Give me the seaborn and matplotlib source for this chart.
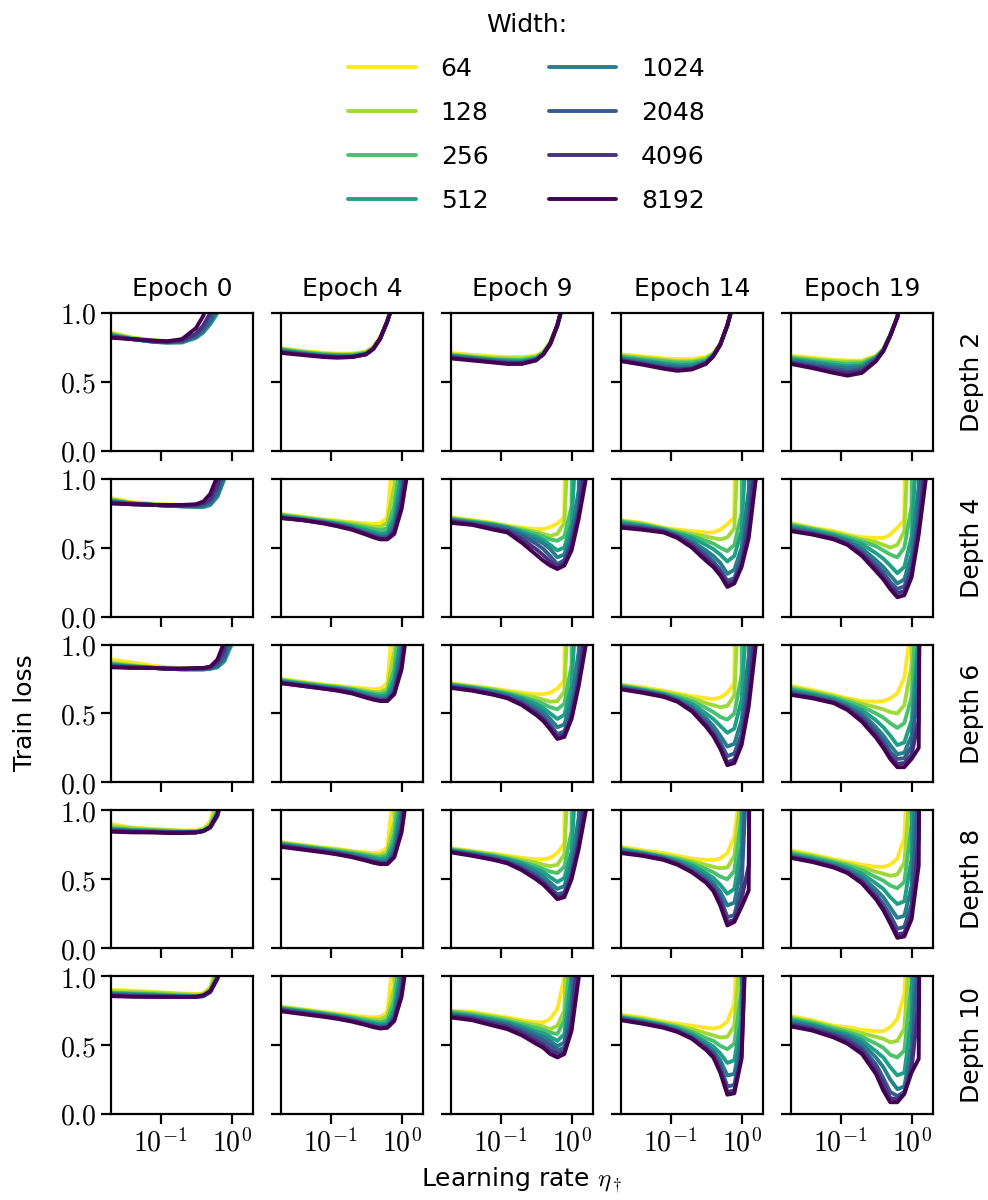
import numpy as np
import pandas as pd
import matplotlib
matplotlib.use("Agg")
import matplotlib.pyplot as plt
import matplotlib.ticker as mtick
from matplotlib.lines import Line2D
import seaborn as sns

# ================================
# DATA (values > 1 are off the top of the axes)
# ================================
widths = [64, 128, 256, 512, 1024, 2048, 4096, 8192]
epochs = [0, 4, 9, 14, 19]
depths = [2, 4, 6, 8, 10]
lr = [0.02, 0.04, 0.08, 0.125, 0.2, 0.315, 0.4, 0.5, 0.63, 0.79, 1.0, 1.26, 1.59, 2.0]

# depth 2: [epoch][width][lr]
depth2_loss = [
    [
        [0.86, 0.82, 0.80, 0.795, 0.80, 0.84, 0.88, 0.94, 1.03, 9],
        [0.85, 0.82, 0.80, 0.79, 0.79, 0.83, 0.87, 0.93, 1.01, 9],
        [0.845, 0.815, 0.795, 0.79, 0.79, 0.82, 0.86, 0.92, 1.0, 9],
        [0.84, 0.81, 0.79, 0.785, 0.785, 0.82, 0.86, 0.92, 1.0, 9],
        [0.835, 0.81, 0.79, 0.785, 0.79, 0.825, 0.87, 0.93, 1.02, 9],
        [0.83, 0.81, 0.795, 0.79, 0.795, 0.835, 0.88, 0.95, 1.05, 9],
        [0.825, 0.81, 0.795, 0.79, 0.80, 0.85, 0.91, 1.0, 9],
        [0.82, 0.81, 0.80, 0.795, 0.81, 0.89, 0.98, 1.15, 9],
    ],
    [
        [0.745, 0.725, 0.71, 0.705, 0.705, 0.72, 0.755, 0.825, 0.945, 1.1, 9],
        [0.74, 0.72, 0.705, 0.70, 0.70, 0.715, 0.75, 0.82, 0.94, 1.1, 9],
        [0.735, 0.715, 0.70, 0.695, 0.695, 0.71, 0.745, 0.815, 0.94, 1.1, 9],
        [0.73, 0.71, 0.695, 0.69, 0.69, 0.705, 0.74, 0.815, 0.94, 1.1, 9],
        [0.725, 0.705, 0.69, 0.685, 0.685, 0.70, 0.74, 0.815, 0.94, 1.1, 9],
        [0.72, 0.70, 0.685, 0.68, 0.68, 0.70, 0.74, 0.815, 0.94, 1.1, 9],
        [0.715, 0.70, 0.685, 0.68, 0.68, 0.70, 0.74, 0.815, 0.94, 1.1, 9],
        [0.71, 0.695, 0.68, 0.675, 0.68, 0.70, 0.74, 0.815, 0.94, 1.1, 9],
    ],
    [
        [0.71, 0.695, 0.685, 0.68, 0.68, 0.69, 0.72, 0.79, 0.92, 1.1, 9],
        [0.70, 0.685, 0.675, 0.67, 0.67, 0.685, 0.715, 0.785, 0.915, 1.1, 9],
        [0.695, 0.68, 0.665, 0.66, 0.66, 0.675, 0.71, 0.78, 0.91, 1.1, 9],
        [0.69, 0.675, 0.66, 0.655, 0.65, 0.67, 0.705, 0.78, 0.91, 1.1, 9],
        [0.685, 0.67, 0.655, 0.645, 0.645, 0.665, 0.70, 0.775, 0.91, 1.1, 9],
        [0.68, 0.665, 0.65, 0.64, 0.64, 0.66, 0.70, 0.775, 0.91, 1.1, 9],
        [0.675, 0.66, 0.645, 0.635, 0.635, 0.66, 0.70, 0.775, 0.91, 1.1, 9],
        [0.67, 0.655, 0.64, 0.63, 0.63, 0.655, 0.70, 0.775, 0.91, 1.1, 9],
    ],
    [
        [0.70, 0.685, 0.67, 0.665, 0.665, 0.68, 0.71, 0.78, 0.91, 1.1, 9],
        [0.69, 0.675, 0.66, 0.65, 0.65, 0.67, 0.705, 0.775, 0.91, 1.1, 9],
        [0.685, 0.665, 0.65, 0.64, 0.64, 0.66, 0.70, 0.77, 0.91, 1.1, 9],
        [0.675, 0.655, 0.635, 0.625, 0.625, 0.65, 0.695, 0.77, 0.91, 1.1, 9],
        [0.67, 0.645, 0.625, 0.61, 0.61, 0.645, 0.69, 0.77, 0.91, 1.1, 9],
        [0.66, 0.635, 0.61, 0.60, 0.60, 0.64, 0.69, 0.77, 0.91, 1.1, 9],
        [0.655, 0.63, 0.60, 0.59, 0.595, 0.635, 0.685, 0.77, 0.91, 1.1, 9],
        [0.65, 0.625, 0.595, 0.58, 0.59, 0.63, 0.685, 0.77, 0.91, 1.1, 9],
    ],
    [
        [0.69, 0.675, 0.66, 0.655, 0.655, 0.69, 0.74, 0.84, 0.97, 1.2, 9],
        [0.68, 0.665, 0.65, 0.645, 0.645, 0.685, 0.735, 0.84, 0.97, 1.2, 9],
        [0.675, 0.655, 0.64, 0.63, 0.635, 0.68, 0.735, 0.84, 0.97, 1.2, 9],
        [0.665, 0.645, 0.625, 0.615, 0.62, 0.675, 0.73, 0.835, 0.97, 1.2, 9],
        [0.655, 0.635, 0.61, 0.60, 0.61, 0.67, 0.73, 0.835, 0.97, 1.2, 9],
        [0.645, 0.62, 0.595, 0.58, 0.595, 0.665, 0.725, 0.835, 0.97, 1.2, 9],
        [0.635, 0.61, 0.58, 0.565, 0.58, 0.655, 0.725, 0.835, 0.97, 1.2, 9],
        [0.63, 0.60, 0.565, 0.545, 0.565, 0.65, 0.725, 0.835, 0.97, 1.2, 9],
    ],
]

depth4_loss = [
    [
        [0.86, 0.83, 0.82, 0.815, 0.81, 0.81, 0.815, 0.84, 0.92, 1.05, 9],
        [0.85, 0.825, 0.815, 0.81, 0.805, 0.80, 0.805, 0.82, 0.89, 1.02, 9],
        [0.845, 0.82, 0.81, 0.805, 0.80, 0.795, 0.795, 0.81, 0.87, 1.0, 9],
        [0.84, 0.82, 0.81, 0.805, 0.80, 0.795, 0.795, 0.81, 0.87, 1.0, 9],
        [0.835, 0.82, 0.81, 0.805, 0.80, 0.80, 0.80, 0.815, 0.88, 1.01, 9],
        [0.83, 0.815, 0.81, 0.805, 0.805, 0.805, 0.81, 0.83, 0.90, 1.05, 9],
        [0.825, 0.815, 0.81, 0.805, 0.805, 0.81, 0.82, 0.85, 0.95, 1.15, 9],
        [0.82, 0.815, 0.81, 0.81, 0.81, 0.815, 0.835, 0.89, 1.02, 9],
    ],
    [
        [0.745, 0.725, 0.705, 0.695, 0.685, 0.675, 0.67, 0.675, 0.72, 1.3, 9],
        [0.74, 0.72, 0.70, 0.69, 0.675, 0.66, 0.65, 0.65, 0.68, 0.95, 9],
        [0.735, 0.715, 0.695, 0.68, 0.665, 0.645, 0.635, 0.625, 0.64, 0.80, 1.2, 9],
        [0.73, 0.71, 0.69, 0.675, 0.655, 0.63, 0.615, 0.60, 0.61, 0.72, 1.05, 9],
        [0.725, 0.705, 0.685, 0.67, 0.645, 0.615, 0.60, 0.585, 0.59, 0.67, 0.95, 9],
        [0.72, 0.70, 0.68, 0.665, 0.64, 0.605, 0.59, 0.575, 0.575, 0.64, 0.88, 1.3, 9],
        [0.715, 0.70, 0.68, 0.66, 0.635, 0.60, 0.58, 0.565, 0.565, 0.62, 0.83, 1.2, 9],
        [0.715, 0.70, 0.675, 0.655, 0.63, 0.595, 0.575, 0.56, 0.56, 0.60, 0.78, 1.1, 9],
    ],
    [
        [0.72, 0.70, 0.68, 0.66, 0.645, 0.635, 0.635, 0.65, 0.675, 0.72, 9],
        [0.715, 0.695, 0.675, 0.655, 0.635, 0.615, 0.60, 0.585, 0.60, 0.68, 1.8, 9],
        [0.71, 0.69, 0.67, 0.65, 0.625, 0.60, 0.58, 0.56, 0.55, 0.58, 0.80, 9],
        [0.705, 0.685, 0.665, 0.645, 0.615, 0.58, 0.555, 0.52, 0.48, 0.50, 0.68, 1.6, 9],
        [0.70, 0.68, 0.66, 0.64, 0.60, 0.56, 0.53, 0.49, 0.43, 0.45, 0.60, 0.92, 9],
        [0.695, 0.675, 0.65, 0.63, 0.585, 0.53, 0.49, 0.44, 0.38, 0.41, 0.55, 0.80, 1.6, 9],
        [0.69, 0.67, 0.64, 0.62, 0.56, 0.49, 0.445, 0.40, 0.36, 0.39, 0.52, 0.75, 1.15, 9],
        [0.68, 0.665, 0.63, 0.61, 0.535, 0.45, 0.405, 0.37, 0.345, 0.37, 0.48, 0.71, 1.0, 9],
    ],
    [
        [0.70, 0.68, 0.645, 0.63, 0.62, 0.61, 0.61, 0.63, 0.67, 0.72, 9],
        [0.695, 0.675, 0.64, 0.62, 0.60, 0.58, 0.57, 0.56, 0.575, 0.64, 1.8, 9],
        [0.69, 0.665, 0.635, 0.61, 0.585, 0.55, 0.53, 0.50, 0.475, 0.52, 0.75, 9],
        [0.68, 0.66, 0.63, 0.60, 0.57, 0.52, 0.49, 0.45, 0.40, 0.44, 0.62, 1.6, 9],
        [0.67, 0.65, 0.625, 0.59, 0.545, 0.48, 0.44, 0.39, 0.31, 0.34, 0.50, 0.92, 9],
        [0.66, 0.645, 0.62, 0.585, 0.53, 0.45, 0.40, 0.34, 0.26, 0.28, 0.42, 0.76, 1.6, 9],
        [0.655, 0.64, 0.615, 0.58, 0.515, 0.425, 0.375, 0.32, 0.24, 0.255, 0.38, 0.65, 1.15, 9],
        [0.645, 0.63, 0.61, 0.57, 0.50, 0.405, 0.36, 0.30, 0.215, 0.24, 0.36, 0.57, 1.0, 9],
    ],
    [
        [0.68, 0.645, 0.62, 0.595, 0.575, 0.57, 0.57, 0.595, 0.645, 0.70, 9],
        [0.67, 0.64, 0.61, 0.585, 0.56, 0.54, 0.52, 0.50, 0.52, 0.62, 1.8, 9],
        [0.665, 0.635, 0.60, 0.575, 0.545, 0.51, 0.48, 0.45, 0.43, 0.50, 0.80, 9],
        [0.655, 0.625, 0.59, 0.56, 0.525, 0.46, 0.42, 0.37, 0.315, 0.36, 0.58, 1.5, 9],
        [0.645, 0.615, 0.58, 0.55, 0.495, 0.41, 0.36, 0.30, 0.24, 0.27, 0.45, 0.95, 9],
        [0.635, 0.605, 0.57, 0.535, 0.47, 0.375, 0.32, 0.25, 0.20, 0.22, 0.37, 0.75, 1.6, 9],
        [0.625, 0.60, 0.565, 0.525, 0.455, 0.35, 0.29, 0.22, 0.17, 0.185, 0.32, 0.65, 1.15, 9],
        [0.62, 0.595, 0.56, 0.52, 0.44, 0.33, 0.27, 0.20, 0.14, 0.155, 0.285, 0.595, 1.0, 9],
    ],
]

depth6_loss = [
    [
        [0.89, 0.87, 0.845, 0.835, 0.83, 0.83, 0.83, 0.835, 0.85, 0.92, 1.1, 9],
        [0.87, 0.85, 0.835, 0.83, 0.825, 0.825, 0.825, 0.83, 0.84, 0.90, 1.05, 9],
        [0.86, 0.845, 0.83, 0.825, 0.82, 0.82, 0.82, 0.825, 0.835, 0.88, 1.02, 9],
        [0.855, 0.84, 0.83, 0.825, 0.82, 0.82, 0.82, 0.825, 0.835, 0.88, 1.0, 9],
        [0.85, 0.84, 0.83, 0.825, 0.82, 0.82, 0.82, 0.825, 0.84, 0.89, 1.02, 9],
        [0.845, 0.835, 0.83, 0.825, 0.825, 0.825, 0.825, 0.83, 0.85, 0.91, 1.1, 9],
        [0.84, 0.835, 0.83, 0.825, 0.825, 0.825, 0.83, 0.835, 0.87, 0.96, 9],
        [0.835, 0.83, 0.83, 0.825, 0.825, 0.83, 0.83, 0.84, 0.89, 1.02, 9],
    ],
    [
        [0.75, 0.73, 0.71, 0.70, 0.69, 0.68, 0.675, 0.68, 0.72, 1.3, 9],
        [0.745, 0.725, 0.705, 0.695, 0.68, 0.665, 0.655, 0.655, 0.68, 0.95, 9],
        [0.74, 0.72, 0.70, 0.69, 0.675, 0.655, 0.645, 0.64, 0.655, 0.82, 1.3, 9],
        [0.735, 0.715, 0.695, 0.685, 0.67, 0.645, 0.635, 0.625, 0.635, 0.75, 1.1, 9],
        [0.73, 0.71, 0.69, 0.68, 0.66, 0.635, 0.62, 0.61, 0.615, 0.70, 1.0, 9],
        [0.725, 0.705, 0.685, 0.675, 0.655, 0.625, 0.61, 0.60, 0.60, 0.67, 0.92, 9],
        [0.72, 0.70, 0.68, 0.67, 0.65, 0.62, 0.605, 0.595, 0.595, 0.65, 0.86, 1.3, 9],
        [0.72, 0.70, 0.68, 0.665, 0.645, 0.615, 0.60, 0.59, 0.59, 0.64, 0.82, 1.2, 9],
    ],
    [
        [0.72, 0.70, 0.68, 0.665, 0.65, 0.64, 0.64, 0.65, 0.68, 0.74, 9],
        [0.715, 0.695, 0.675, 0.655, 0.635, 0.615, 0.60, 0.585, 0.59, 0.66, 1.8, 9],
        [0.71, 0.69, 0.665, 0.645, 0.62, 0.59, 0.57, 0.545, 0.53, 0.57, 0.85, 9],
        [0.705, 0.685, 0.66, 0.64, 0.61, 0.57, 0.54, 0.50, 0.46, 0.49, 0.70, 1.6, 9],
        [0.70, 0.68, 0.655, 0.63, 0.595, 0.545, 0.51, 0.46, 0.40, 0.42, 0.60, 0.95, 9],
        [0.695, 0.675, 0.645, 0.62, 0.58, 0.52, 0.48, 0.42, 0.35, 0.37, 0.52, 0.80, 1.6, 9],
        [0.69, 0.67, 0.64, 0.615, 0.57, 0.505, 0.46, 0.40, 0.33, 0.345, 0.48, 0.74, 1.15, 9],
        [0.685, 0.665, 0.635, 0.61, 0.56, 0.49, 0.445, 0.385, 0.315, 0.33, 0.46, 0.70, 1.0, 9],
    ],
    [
        [0.71, 0.69, 0.665, 0.645, 0.625, 0.61, 0.605, 0.615, 0.65, 0.72, 9],
        [0.705, 0.68, 0.655, 0.635, 0.61, 0.575, 0.56, 0.545, 0.555, 0.63, 1.8, 9],
        [0.70, 0.675, 0.645, 0.62, 0.59, 0.54, 0.51, 0.475, 0.455, 0.50, 0.78, 9],
        [0.695, 0.67, 0.64, 0.61, 0.57, 0.50, 0.46, 0.41, 0.36, 0.39, 0.60, 1.5, 9],
        [0.69, 0.665, 0.635, 0.60, 0.55, 0.465, 0.41, 0.34, 0.26, 0.28, 0.45, 0.92, 9],
        [0.685, 0.66, 0.63, 0.595, 0.535, 0.44, 0.375, 0.29, 0.19, 0.21, 0.35, 0.75, 1.6, 9],
        [0.68, 0.655, 0.625, 0.59, 0.525, 0.42, 0.35, 0.26, 0.145, 0.165, 0.30, 0.62, 1.15, 9],
        [0.675, 0.65, 0.62, 0.585, 0.515, 0.405, 0.335, 0.245, 0.125, 0.14, 0.27, 0.55, 1.0, 9],
    ],
    [
        [0.70, 0.67, 0.635, 0.61, 0.59, 0.585, 0.59, 0.61, 0.645, 0.76, 1.15, 9],
        [0.69, 0.66, 0.625, 0.60, 0.57, 0.545, 0.53, 0.51, 0.50, 0.56, 0.85, 9],
        [0.68, 0.65, 0.615, 0.585, 0.55, 0.50, 0.47, 0.43, 0.395, 0.43, 0.62, 1.6, 9],
        [0.67, 0.64, 0.605, 0.57, 0.525, 0.45, 0.40, 0.34, 0.27, 0.29, 0.45, 1.1, 9],
        [0.66, 0.63, 0.595, 0.555, 0.50, 0.40, 0.34, 0.27, 0.205, 0.215, 0.34, 0.95, 9],
        [0.65, 0.62, 0.585, 0.545, 0.48, 0.37, 0.30, 0.22, 0.17, 0.175, 0.26, 0.70, 9],
        [0.64, 0.615, 0.58, 0.535, 0.46, 0.345, 0.27, 0.19, 0.135, 0.14, 0.20, 0.45, 9],
        [0.635, 0.61, 0.575, 0.525, 0.44, 0.325, 0.25, 0.17, 0.11, 0.11, 0.17, 0.25, 9],
    ],
]

depth8_loss = [
    [
        [0.90, 0.875, 0.865, 0.86, 0.855, 0.855, 0.87, 0.92, 1.1, 9],
        [0.885, 0.87, 0.86, 0.855, 0.85, 0.85, 0.86, 0.90, 1.05, 9],
        [0.87, 0.86, 0.855, 0.85, 0.845, 0.845, 0.855, 0.885, 1.0, 9],
        [0.865, 0.855, 0.85, 0.845, 0.84, 0.84, 0.85, 0.88, 0.98, 9],
        [0.86, 0.85, 0.845, 0.84, 0.84, 0.84, 0.85, 0.875, 0.97, 1.2, 9],
        [0.855, 0.85, 0.845, 0.84, 0.84, 0.84, 0.85, 0.875, 0.96, 1.15, 9],
        [0.85, 0.845, 0.84, 0.84, 0.84, 0.84, 0.85, 0.875, 0.96, 1.15, 9],
        [0.845, 0.84, 0.84, 0.835, 0.835, 0.84, 0.85, 0.88, 0.97, 1.2, 9],
    ],
    [
        [0.77, 0.75, 0.73, 0.72, 0.705, 0.695, 0.69, 0.695, 0.73, 1.2, 9],
        [0.765, 0.745, 0.725, 0.715, 0.70, 0.685, 0.675, 0.675, 0.70, 0.92, 9],
        [0.76, 0.74, 0.72, 0.705, 0.69, 0.675, 0.665, 0.66, 0.675, 0.82, 1.3, 9],
        [0.755, 0.735, 0.715, 0.70, 0.685, 0.665, 0.655, 0.645, 0.655, 0.76, 1.1, 9],
        [0.75, 0.73, 0.71, 0.695, 0.675, 0.655, 0.64, 0.63, 0.635, 0.72, 1.0, 9],
        [0.745, 0.725, 0.705, 0.69, 0.67, 0.645, 0.63, 0.62, 0.62, 0.69, 0.92, 9],
        [0.74, 0.72, 0.70, 0.685, 0.665, 0.64, 0.625, 0.615, 0.615, 0.67, 0.87, 1.3, 9],
        [0.735, 0.715, 0.695, 0.68, 0.66, 0.635, 0.62, 0.61, 0.61, 0.66, 0.84, 1.2, 9],
    ],
    [
        [0.725, 0.705, 0.685, 0.67, 0.655, 0.645, 0.645, 0.655, 0.69, 0.76, 9],
        [0.72, 0.70, 0.68, 0.66, 0.64, 0.62, 0.605, 0.595, 0.605, 0.68, 1.8, 9],
        [0.715, 0.695, 0.67, 0.65, 0.625, 0.595, 0.575, 0.555, 0.545, 0.59, 0.85, 9],
        [0.71, 0.69, 0.665, 0.645, 0.615, 0.575, 0.55, 0.515, 0.48, 0.51, 0.70, 1.6, 9],
        [0.705, 0.685, 0.66, 0.635, 0.60, 0.555, 0.52, 0.475, 0.43, 0.45, 0.62, 0.95, 9],
        [0.70, 0.68, 0.65, 0.625, 0.585, 0.53, 0.49, 0.44, 0.39, 0.405, 0.55, 0.82, 1.6, 9],
        [0.70, 0.675, 0.645, 0.62, 0.575, 0.515, 0.475, 0.425, 0.37, 0.385, 0.52, 0.76, 1.15, 9],
        [0.695, 0.67, 0.64, 0.615, 0.565, 0.50, 0.46, 0.41, 0.355, 0.37, 0.50, 0.72, 1.0, 9],
    ],
    [
        [0.735, 0.71, 0.69, 0.67, 0.65, 0.64, 0.64, 0.65, 0.69, 0.81, 1.25, 9],
        [0.725, 0.70, 0.675, 0.655, 0.63, 0.605, 0.59, 0.58, 0.585, 0.67, 1.15, 9],
        [0.72, 0.695, 0.665, 0.645, 0.615, 0.575, 0.55, 0.52, 0.50, 0.56, 0.95, 9],
        [0.715, 0.69, 0.66, 0.635, 0.60, 0.545, 0.51, 0.46, 0.395, 0.43, 0.75, 9],
        [0.71, 0.685, 0.655, 0.625, 0.58, 0.52, 0.475, 0.41, 0.31, 0.33, 0.60, 1.8, 9],
        [0.70, 0.68, 0.65, 0.62, 0.565, 0.50, 0.45, 0.37, 0.225, 0.24, 0.45, 1.6, 9],
        [0.695, 0.675, 0.645, 0.61, 0.555, 0.485, 0.43, 0.34, 0.19, 0.205, 0.36, 0.60, 9],
        [0.69, 0.67, 0.64, 0.605, 0.55, 0.475, 0.415, 0.31, 0.165, 0.19, 0.30, 0.42, 9],
    ],
    [
        [0.71, 0.68, 0.645, 0.625, 0.605, 0.59, 0.59, 0.605, 0.65, 0.80, 2.0, 9],
        [0.70, 0.67, 0.635, 0.61, 0.585, 0.555, 0.54, 0.525, 0.535, 0.62, 1.3, 9],
        [0.69, 0.66, 0.625, 0.60, 0.565, 0.515, 0.49, 0.455, 0.435, 0.48, 0.90, 9],
        [0.68, 0.65, 0.615, 0.585, 0.54, 0.47, 0.43, 0.37, 0.32, 0.34, 0.65, 9],
        [0.67, 0.64, 0.605, 0.57, 0.515, 0.425, 0.37, 0.295, 0.22, 0.235, 0.45, 1.8, 9],
        [0.665, 0.635, 0.595, 0.56, 0.495, 0.39, 0.32, 0.24, 0.14, 0.155, 0.32, 1.2, 9],
        [0.66, 0.63, 0.59, 0.55, 0.48, 0.37, 0.29, 0.20, 0.10, 0.11, 0.25, 0.80, 9],
        [0.655, 0.625, 0.585, 0.545, 0.47, 0.355, 0.275, 0.18, 0.075, 0.085, 0.21, 0.60, 9],
    ],
]

depth10_loss = [
    [
        [0.90, 0.895, 0.885, 0.88, 0.875, 0.87, 0.875, 0.92, 1.1, 9],
        [0.89, 0.885, 0.88, 0.875, 0.87, 0.865, 0.87, 0.91, 1.05, 9],
        [0.88, 0.875, 0.87, 0.865, 0.86, 0.855, 0.86, 0.895, 1.02, 9],
        [0.875, 0.87, 0.865, 0.86, 0.855, 0.85, 0.855, 0.885, 0.99, 9],
        [0.87, 0.865, 0.86, 0.855, 0.85, 0.85, 0.855, 0.885, 0.985, 1.2, 9],
        [0.865, 0.86, 0.855, 0.85, 0.85, 0.85, 0.855, 0.885, 0.98, 1.2, 9],
        [0.86, 0.855, 0.85, 0.85, 0.85, 0.85, 0.86, 0.89, 0.98, 1.2, 9],
        [0.855, 0.85, 0.85, 0.85, 0.85, 0.85, 0.86, 0.89, 0.985, 1.2, 9],
    ],
    [
        [0.78, 0.76, 0.74, 0.73, 0.715, 0.705, 0.70, 0.705, 0.74, 1.2, 9],
        [0.775, 0.755, 0.735, 0.72, 0.705, 0.69, 0.685, 0.685, 0.71, 0.92, 9],
        [0.77, 0.75, 0.73, 0.715, 0.70, 0.68, 0.67, 0.665, 0.68, 0.82, 1.3, 9],
        [0.765, 0.745, 0.725, 0.71, 0.69, 0.67, 0.66, 0.65, 0.66, 0.76, 1.1, 9],
        [0.76, 0.74, 0.72, 0.705, 0.685, 0.66, 0.65, 0.64, 0.645, 0.72, 1.0, 9],
        [0.755, 0.735, 0.715, 0.70, 0.68, 0.655, 0.64, 0.63, 0.635, 0.70, 0.93, 9],
        [0.75, 0.73, 0.71, 0.695, 0.675, 0.65, 0.635, 0.625, 0.63, 0.685, 0.88, 1.3, 9],
        [0.745, 0.725, 0.705, 0.69, 0.67, 0.645, 0.63, 0.62, 0.625, 0.675, 0.85, 1.2, 9],
    ],
    [
        [0.75, 0.74, 0.715, 0.70, 0.68, 0.665, 0.665, 0.69, 0.76, 0.99, 9],
        [0.745, 0.73, 0.705, 0.69, 0.665, 0.645, 0.635, 0.615, 0.64, 0.75, 2.5, 9],
        [0.74, 0.72, 0.695, 0.675, 0.65, 0.625, 0.61, 0.59, 0.58, 0.68, 1.2, 9],
        [0.73, 0.71, 0.685, 0.665, 0.635, 0.60, 0.585, 0.56, 0.53, 0.58, 1.0, 9],
        [0.725, 0.705, 0.675, 0.655, 0.62, 0.58, 0.56, 0.53, 0.49, 0.52, 0.85, 9],
        [0.715, 0.695, 0.665, 0.645, 0.605, 0.56, 0.535, 0.50, 0.46, 0.48, 0.75, 1.5, 9],
        [0.71, 0.69, 0.655, 0.63, 0.59, 0.535, 0.505, 0.465, 0.435, 0.45, 0.66, 1.2, 9],
        [0.70, 0.68, 0.64, 0.615, 0.57, 0.51, 0.48, 0.435, 0.41, 0.435, 0.605, 0.99, 9],
    ],
    [
        [0.72, 0.70, 0.67, 0.655, 0.64, 0.625, 0.62, 0.63, 0.67, 0.80, 2.0, 9],
        [0.71, 0.69, 0.66, 0.64, 0.615, 0.585, 0.57, 0.555, 0.56, 0.64, 1.3, 9],
        [0.705, 0.68, 0.65, 0.63, 0.595, 0.55, 0.53, 0.495, 0.47, 0.51, 0.90, 9],
        [0.70, 0.675, 0.645, 0.62, 0.58, 0.52, 0.49, 0.44, 0.37, 0.39, 0.70, 9],
        [0.695, 0.67, 0.64, 0.61, 0.565, 0.50, 0.46, 0.39, 0.28, 0.29, 0.58, 9],
        [0.69, 0.665, 0.635, 0.605, 0.555, 0.485, 0.44, 0.35, 0.20, 0.21, 0.48, 2.5, 9],
        [0.685, 0.66, 0.63, 0.60, 0.55, 0.475, 0.425, 0.32, 0.16, 0.17, 0.42, 2.0, 9],
        [0.68, 0.655, 0.625, 0.595, 0.545, 0.465, 0.41, 0.30, 0.14, 0.15, 0.40, 1.8, 9],
    ],
    [
        [0.71, 0.68, 0.64, 0.63, 0.61, 0.60, 0.60, 0.63, 0.69, 0.87, 2.0, 9],
        [0.70, 0.67, 0.63, 0.61, 0.585, 0.56, 0.545, 0.52, 0.53, 0.62, 1.4, 9],
        [0.69, 0.66, 0.62, 0.595, 0.56, 0.51, 0.48, 0.43, 0.41, 0.46, 0.95, 9],
        [0.68, 0.65, 0.605, 0.58, 0.535, 0.455, 0.41, 0.34, 0.28, 0.30, 0.70, 9],
        [0.665, 0.64, 0.595, 0.565, 0.51, 0.41, 0.34, 0.25, 0.18, 0.20, 0.50, 1.8, 9],
        [0.655, 0.625, 0.58, 0.55, 0.48, 0.36, 0.26, 0.16, 0.13, 0.16, 0.38, 1.2, 9],
        [0.645, 0.615, 0.57, 0.53, 0.46, 0.325, 0.22, 0.115, 0.105, 0.15, 0.33, 0.80, 9],
        [0.635, 0.605, 0.555, 0.51, 0.435, 0.29, 0.17, 0.085, 0.085, 0.145, 0.30, 0.40, 9],
    ],
]

loss_by_depth = [depth2_loss, depth4_loss, depth6_loss, depth8_loss, depth10_loss]

# ================================
# STYLE
# ================================
sns.set_style("ticks")
plt.rcParams["font.family"] = ["DejaVu Sans"]
plt.rcParams["mathtext.fontset"] = "cm"
for key in ["text.color", "axes.labelcolor", "xtick.color", "ytick.color", "axes.edgecolor"]:
    plt.rcParams[key] = "black"

palette = [plt.cm.viridis_r(v) for v in np.linspace(0, 1, len(widths))]
width_names = [str(w) for w in widths]

fig, axes = plt.subplots(5, 5, figsize=(9.88, 12), dpi=100, sharex=True, sharey=True)
fig.subplots_adjust(left=0.1123, right=0.9443, top=0.7392, bottom=0.0717,
                    wspace=0.197, hspace=0.203)

# ================================
# PANELS
# ================================
for i, depth in enumerate(depths):
    for j, epoch in enumerate(epochs):
        ax = axes[i, j]
        rows = []
        for k, w in enumerate(width_names):
            for x, y in zip(lr, loss_by_depth[i][j][k]):
                rows.append((x, y, w))
        df = pd.DataFrame(rows, columns=["lr", "loss", "width"])
        sns.lineplot(data=df, x="lr", y="loss", hue="width", hue_order=width_names,
                     palette=palette, lw=2.8, legend=False, errorbar=None, ax=ax)

        ax.set_xscale("log")
        ax.set_xlim(0.02, 2.0)
        ax.set_ylim(0, 1)
        ax.set_xticks([0.1, 1.0])
        ax.xaxis.set_minor_locator(mtick.NullLocator())
        ax.xaxis.set_major_formatter(
            mtick.FuncFormatter(lambda v, p: r"$10^{%d}$" % round(np.log10(v))))
        ax.set_yticks([0, 0.5, 1.0])
        ax.yaxis.set_major_formatter(mtick.FuncFormatter(lambda v, p: r"$%.1f$" % v))
        ax.tick_params(direction="out", length=7, width=1.6, labelsize=20, colors="black")
        for s in ax.spines.values():
            s.set_linewidth(1.6)
            s.set_color("black")
        ax.set_xlabel("")
        ax.set_ylabel("")

        if i == 0:
            ax.set_title(f"Epoch {epoch}", fontsize=18, pad=12)
        if j == len(epochs) - 1:
            ax.text(1.275, 0.5, f"Depth {depth}", rotation=90, transform=ax.transAxes,
                    ha="center", va="center", fontsize=18)

fig.text(0.025, 0.406, "Train loss", rotation=90, ha="center", va="center", fontsize=18)
fig.text(0.528, 0.0167, r"Learning rate $\eta_\dagger$", ha="center", va="center", fontsize=18)

# ================================
# LEGEND
# ================================
handles = [Line2D([], [], color=c, lw=2.8) for c in palette]
fig.legend(handles, width_names, ncol=2, title="Width:", frameon=False,
           loc="upper center", bbox_to_anchor=(0.533, 1.0), fontsize=18, title_fontsize=18,
           handlelength=2.7, handletextpad=1.0, columnspacing=2.4, labelspacing=0.8,
           borderaxespad=0.2, borderpad=0.3)

fig.savefig("out.png", dpi=100)
